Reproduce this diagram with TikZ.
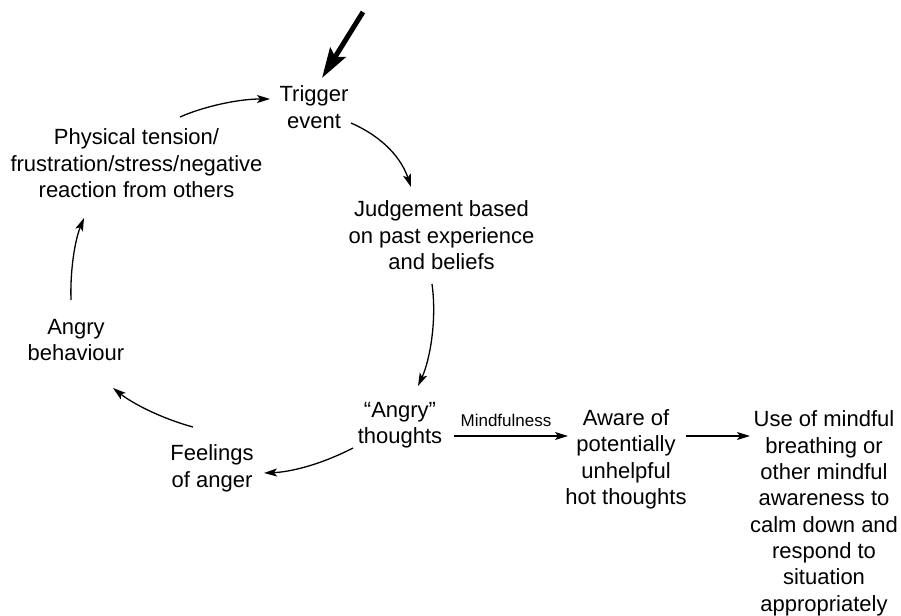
\documentclass[tikz,border=0pt]{standalone}
\usepackage{fontspec}
\setmainfont{Liberation Sans}
\usetikzlibrary{arrows.meta,calc}
\begin{document}
\begin{tikzpicture}[x=1pt,y=-1pt,
  every node/.style={inner sep=0pt},
  txt/.style={align=center,font=\fontsize{22}{26.3}\selectfont,
    execute at begin node=\strut,execute at end node=\strut},
  small/.style={font=\fontsize{17}{20}\selectfont},
  flow/.style={line width=1.3pt,-{Stealth[length=13pt,width=8pt,inset=3pt]}},
  bigflow/.style={line width=5pt,-{Stealth[length=30pt,width=18pt,inset=5pt]}}]
\useasboundingbox (0,0) rectangle (901,615);

% cycle stages
\node[txt] (trig)  at (314,111) {Trigger\\event};
\node[txt] (phys)  at (136.5,167) {Physical tension/\\frustration/stress/negative\\reaction from others};
\node[txt] (judg)  at (441.5,239) {Judgement based\\on past experience\\and beliefs};
\node[txt] (angt)  at (400,427) {“Angry”\\thoughts};
\node[txt] (feel)  at (212,470) {Feelings\\of anger};
\node[txt] (behav) at (76,344)  {Angry\\behaviour};
% mindful route
\node[txt] (aware) at (626,461) {Aware of\\potentially\\unhelpful\\hot thoughts};
\node[txt] (use)   at (824,515) {Use of mindful\\breathing or\\other mindful\\awareness to\\calm down and\\respond to\\situation\\appropriately};

% entry arrow
\coordinate (entry) at (363,12);
\draw[bigflow] (entry) -- ($(trig.center)+(8,-33)$);

% cycle connectors
\draw[flow] ($(phys.center)+(43.5,-50)$) .. controls (200,108) and (235,99) .. ($(trig.center)+(-44,-12)$);
\draw[flow] ($(trig.center)+(37,12)$) .. controls (385,138) and (402,160) .. ($(judg.center)+(-30.5,-52)$);
\draw[flow] ($(judg.center)+(-9.5,45)$) .. controls (437,320) and (430,360) .. ($(angt.center)+(18,-41)$);
\draw[flow] ($(angt.center)+(-47,21)$) .. controls (320,465) and (290,472) .. ($(feel.center)+(52,3)$);
\draw[flow] ($(feel.center)+(-19,-43)$) .. controls (160,418) and (132,403) .. ($(behav.center)+(37,44)$);
\draw[flow] ($(behav.center)+(-5,-44)$) .. controls (70,270) and (75,240) .. ($(phys.center)+(-52.5,51)$);

% mindful route connectors
\draw[flow] ($(angt.center)+(54,9)$) -- node[small,above=9pt,xshift=-5pt] {Mindfulness} ($(aware.center)+(-58,-25)$);
\draw[flow] ($(aware.center)+(60,-25)$) -- ($(use.center)+(-74,-79)$);
\end{tikzpicture}
\end{document}
